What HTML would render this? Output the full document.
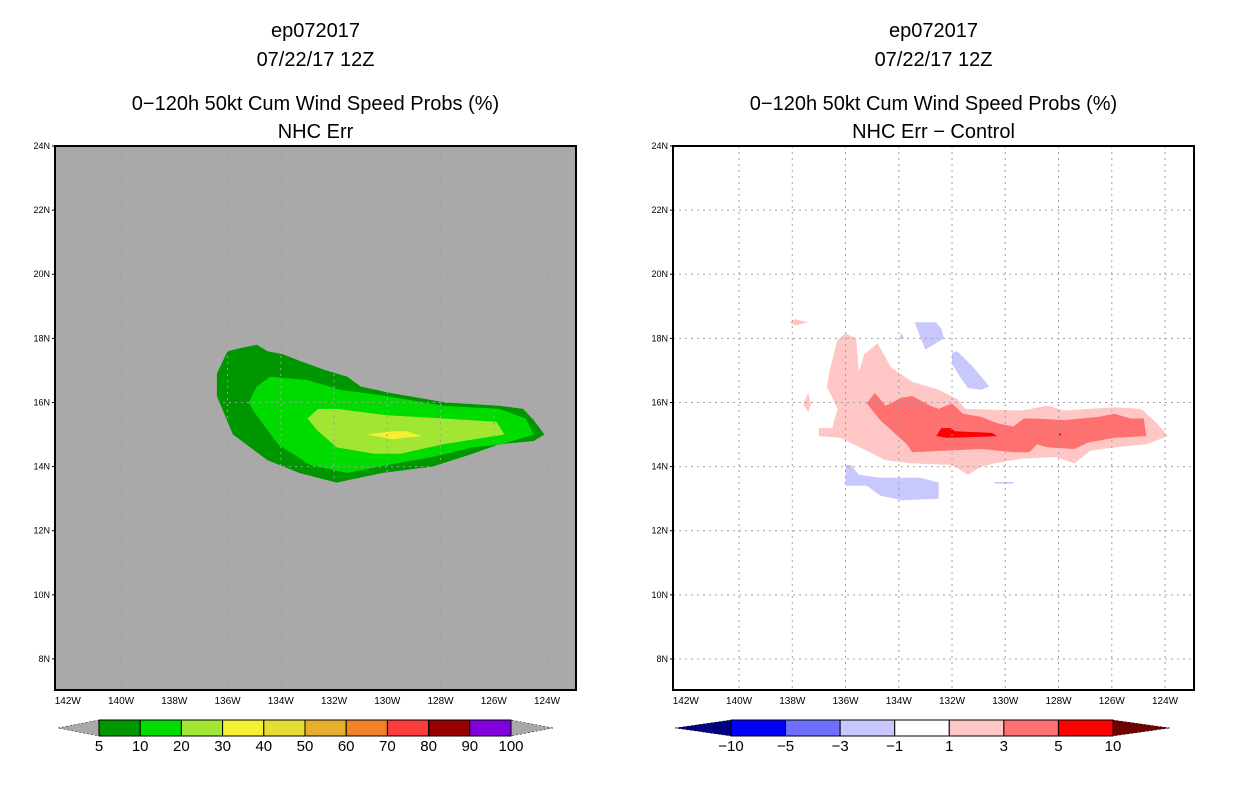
<!DOCTYPE html>
<html><head><meta charset="utf-8"><style>
body{margin:0;background:#fff;width:1236px;height:800px;overflow:hidden;font-family:"Liberation Sans",sans-serif}
</style></head><body>
<svg id="s" width="1236" height="800" xmlns="http://www.w3.org/2000/svg" font-family="Liberation Sans, sans-serif"></svg>
<script>
const lonTicks=[142,140,138,136,134,132,130,128,126,124];
const latTicks=[24,22,20,18,16,14,12,10,8];
const leftLevels=['5','10','20','30','40','50','60','70','80','90','100'];
const leftColors=['#009600','#00dc00','#a0e632','#f5f032','#e6dc32','#e6af2d','#f08228','#fa3c3c','#960000','#8200dc'];
const rightLevels=['−10','−5','−3','−1','1','3','5','10'];
const rightColors=['#0000ff','#7070ff','#c8c8ff','#ffffff','#ffc6c6','#ff7070','#ff0000'];
const left5=[[136.4,16.9],[136.0,17.6],[135.5,17.7],[134.9,17.8],[134.5,17.6],[133.9,17.5],[133.3,17.3],[132.3,17.0],[131.5,16.8],[131.0,16.5],[129.9,16.3],[127.8,16.0],[125.8,15.9],[124.9,15.8],[124.5,15.45],[124.1,15.0],[124.5,14.8],[125.8,14.7],[126.8,14.4],[128.3,14.0],[130.2,13.8],[131.9,13.5],[133.3,13.8],[134.5,14.2],[135.8,15.0],[136.4,16.2]];
const left10=[[135.2,16.0],[134.9,16.5],[134.4,16.8],[133.0,16.7],[131.8,16.4],[130.0,16.2],[127.9,15.9],[125.8,15.8],[124.8,15.5],[124.5,15.0],[125.7,14.7],[126.8,14.6],[128.3,14.3],[130.0,14.05],[131.5,13.8],[132.9,14.05],[134.1,14.7],[135.0,15.7]];
const left20=[[133.0,15.5],[132.6,15.8],[131.9,15.8],[130.0,15.6],[127.9,15.5],[125.9,15.4],[125.6,15.0],[127.9,14.7],[129.5,14.4],[130.5,14.4],[131.9,14.6],[132.6,15.1]];
const left30=[[130.8,15.0],[129.8,15.1],[129.3,15.1],[128.7,14.95],[129.3,14.9],[129.8,14.85]];
const rPink=[[137.0,14.95],[137.0,15.2],[136.5,15.2],[136.3,15.8],[136.7,16.5],[136.6,17.0],[136.3,17.95],[136.0,18.15],[135.6,18.0],[135.5,16.95],[135.3,17.5],[134.8,17.85],[134.3,17.1],[133.5,16.65],[132.5,16.4],[131.8,16.1],[131.5,15.8],[129.4,15.75],[128.4,15.9],[127.8,15.75],[125.9,15.85],[124.9,15.8],[124.3,15.35],[123.9,14.95],[124.7,14.7],[125.9,14.6],[126.8,14.5],[127.4,14.1],[128.1,14.3],[129.4,14.25],[130.4,14.1],[130.9,14.0],[131.4,13.75],[132.0,14.05],[133.5,14.1],[134.5,14.2],[135.2,14.5],[136.2,14.9]];
const rPink2=[[138.1,18.5],[137.9,18.6],[137.4,18.5],[137.9,18.4]];
const rPink3=[[137.6,15.95],[137.4,16.3],[137.3,15.95],[137.4,15.7]];
const rMed=[[135.2,15.97],[134.9,16.3],[134.5,15.9],[134.3,15.97],[133.9,16.15],[133.5,16.2],[132.8,15.9],[132.5,15.8],[132.0,15.97],[131.6,15.65],[130.9,15.55],[130.3,15.35],[129.7,15.25],[129.3,15.5],[128.9,15.5],[127.8,15.45],[126.5,15.55],[125.9,15.65],[125.3,15.5],[124.8,15.5],[124.7,14.95],[125.9,14.9],[126.9,14.75],[127.4,14.55],[128.4,14.6],[128.8,14.7],[129.1,14.45],[129.7,14.45],[130.9,14.55],[133.5,14.45],[133.7,14.7],[134.3,15.15],[134.7,15.45]];
const rRed=[[132.6,14.95],[132.4,15.2],[132.0,15.2],[131.9,15.1],[130.5,15.05],[130.3,14.95],[132.0,14.9],[132.2,14.9]];
const rRed2=[[128.0,15.03],[127.9,15.03],[127.9,14.97],[128.0,14.97]];
const bA=[[133.4,18.5],[132.6,18.5],[132.4,18.3],[132.3,18.0],[133.0,17.65],[133.2,18.05]];
const bB=[[132.0,17.55],[131.8,17.6],[131.2,17.1],[130.6,16.5],[130.9,16.4],[131.4,16.45],[131.7,16.8],[132.0,17.2]];
const bT=[[134.0,18.0],[133.9,18.15],[133.8,18.0]];
const bC=[[136.0,14.05],[135.8,14.05],[135.5,13.75],[134.7,13.65],[133.2,13.65],[132.5,13.5],[132.5,13.0],[133.9,12.95],[134.7,13.1],[135.2,13.4],[136.0,13.4]];
const bL=[[130.4,13.52],[129.7,13.52],[129.7,13.47],[130.4,13.47]];

const S=document.getElementById('s');const NS='http://www.w3.org/2000/svg';
function mk(t,a,p){const e=document.createElementNS(NS,t);for(const k in a)e.setAttribute(k,a[k]);(p||S).appendChild(e);return e;}
const PX0=55,PW=521,PY0=146,PH=544;
function xs(off){return lon=>off+PX0+(142.48-lon)*26.625;}
function ys(lat){return PY0+(24-lat)*32.06;}
function tx(x,y,s,size,anchor,name){const e=mk('text',{x:x,y:y,'font-size':size,'text-anchor':anchor||'middle',fill:'#000'});e.textContent=s;


return e;}
function poly(pts,col,X,name){const e=mk('polygon',{points:pts.map(p=>X(p[0]).toFixed(1)+','+ys(p[1]).toFixed(1)).join(' '),fill:col});

}
function panel(off,bg,sub,polys,grid){
 const X=xs(off);
 const r=mk('rect',{x:off+PX0,y:PY0,width:PW,height:PH,fill:bg});
 
 
 polys.forEach(p=>poly(p[0],p[1],X,p[2]));
 lonTicks.forEach(l=>{const x=X(l);
  if(l<141) {const g=mk('line',{x1:x,x2:x,y1:PY0,y2:PY0+PH,stroke:grid,'stroke-width':1,'stroke-dasharray':'2,4'});
  
  }
  tx(x,704,l+'W',10,'middle','x-tick-label');});
 latTicks.forEach(l=>{const y=ys(l);
  if(l<24){const g=mk('line',{x1:off+PX0,x2:off+PX0+PW,y1:y,y2:y,stroke:grid,'stroke-width':1,'stroke-dasharray':'2,4'});
  
  }
  mk('line',{x1:off+PX0-3,x2:off+PX0,y1:y,y2:y,stroke:'#000'});
  tx(off+PX0-5,y+3,l+'N',9,'end','y-tick-label');});
 const f=mk('rect',{x:off+PX0,y:PY0,width:PW,height:PH,fill:'none',stroke:'#000','stroke-width':2});
 
 
 const cx=off+PX0+PW/2;
 tx(cx,37,'ep072017',20,'middle','title-storm');
 tx(cx,66,'07/22/17 12Z',20,'middle','title-date');
 tx(cx,110,'0−120h 50kt Cum Wind Speed Probs (%)',20,'middle','title-main');
 tx(cx,138,sub,20,'middle','title-sub');
}
panel(0,'#a9a9a9','NHC Err',[[left5,leftColors[0],'contour-5'],[left10,leftColors[1],'contour-10'],[left20,leftColors[2],'contour-20'],[left30,leftColors[3],'contour-30']],'#a0a0a0');
panel(618,'#ffffff','NHC Err − Control',[[rPink,rightColors[4],'contour-pos-1'],[rPink2,rightColors[4],'contour-pos-1b'],[rPink3,rightColors[4],'contour-pos-1c'],[rMed,rightColors[5],'contour-pos-3'],[rRed,rightColors[6],'contour-pos-5'],[rRed2,rightColors[6],'contour-pos-5b'],[bA,rightColors[2],'contour-neg-1a'],[bB,rightColors[2],'contour-neg-1b'],[bT,rightColors[2],'contour-neg-1c'],[bC,rightColors[2],'contour-neg-1d'],[bL,rightColors[2],'contour-neg-1e']],'#a0a0a0');
function colorbar(x0,x1,tipL,tipR,cols,labels,lc,rc,name){
 const n=cols.length,w=(x1-x0)/n,y0=720,y1=736,ym=728;
 let e=mk('polygon',{points:`${tipL},${ym} ${x0},${y0} ${x0},${y1}`,fill:lc,stroke:'#000','stroke-width':0.5,'stroke-dasharray':'2,2'});
 
 
 e=mk('polygon',{points:`${tipR},${ym} ${x1},${y0} ${x1},${y1}`,fill:rc,stroke:'#000','stroke-width':0.5,'stroke-dasharray':'2,2'});
 
 
 cols.forEach((c,i)=>{const r=mk('rect',{x:x0+i*w,y:y0,width:w,height:y1-y0,fill:c,stroke:'#000','stroke-width':1});
  
  });
 labels.forEach((l,i)=>tx(x0+i*w,751,l,15,'middle',name+'-label'));
}
colorbar(99,511,58,553,leftColors,leftLevels,'#a9a9a9','#a9a9a9','left-colorbar');
colorbar(731,1113,675,1170,rightColors,rightLevels,'#000080','#6e0000','right-colorbar');
</script>
</body></html>
